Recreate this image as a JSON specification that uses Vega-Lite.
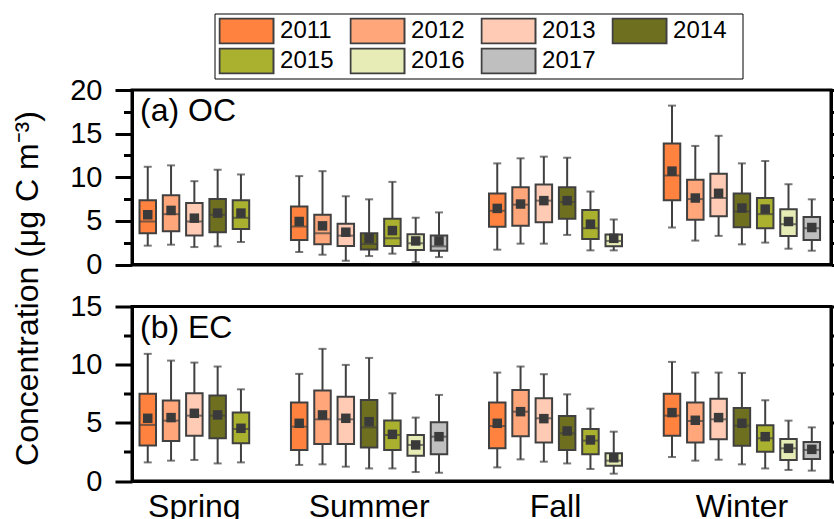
{
  "$schema": "https://vega.github.io/schema/vega-lite/v6.json",
  "padding": {"left": 10, "top": 13, "right": 0, "bottom": 0},
  "bounds": "flush",
  "spacing": 41.5,
  "config": {
    "font": "Liberation Sans",
    "view": {"stroke": "black", "strokeWidth": 3},
    "axis": {"domainColor": "black", "tickColor": "black", "labelColor": "black", "titleColor": "black", "grid": false, "domainWidth": 3, "tickWidth": 3, "labelFont": "Liberation Sans", "titleFont": "Liberation Sans"},
    "legend": {"labelFont": "Liberation Sans", "titleFont": "Liberation Sans"},
    "title": {"font": "Liberation Sans", "color": "black"}
  },
  "datasets": {
    "oc": [
      {"season": "Spring", "year": 2011, "lo": 2.16, "q1": 3.58, "med": 4.93, "q3": 7.36, "hi": 11.2, "mean": 5.7},
      {"season": "Spring", "year": 2012, "lo": 2.27, "q1": 3.81, "med": 5.77, "q3": 7.93, "hi": 11.36, "mean": 6.2},
      {"season": "Spring", "year": 2013, "lo": 2.0, "q1": 3.31, "med": 4.93, "q3": 7.05, "hi": 9.55, "mean": 5.31},
      {"season": "Spring", "year": 2014, "lo": 2.08, "q1": 3.7, "med": 5.7, "q3": 7.5, "hi": 10.86, "mean": 5.89},
      {"season": "Spring", "year": 2015, "lo": 2.58, "q1": 4.08, "med": 5.35, "q3": 7.36, "hi": 10.32, "mean": 5.89},
      {"season": "Summer", "year": 2011, "lo": 1.43, "q1": 2.82, "med": 4.35, "q3": 6.66, "hi": 10.13, "mean": 4.93},
      {"season": "Summer", "year": 2012, "lo": 1.12, "q1": 2.31, "med": 3.58, "q3": 5.7, "hi": 10.7, "mean": 4.43},
      {"season": "Summer", "year": 2013, "lo": 0.43, "q1": 2.12, "med": 3.31, "q3": 4.66, "hi": 7.82, "mean": 3.7},
      {"season": "Summer", "year": 2014, "lo": 0.97, "q1": 1.73, "med": 2.35, "q3": 3.58, "hi": 7.47, "mean": 3.0},
      {"season": "Summer", "year": 2015, "lo": 1.24, "q1": 2.12, "med": 3.0, "q3": 5.24, "hi": 9.47, "mean": 3.89},
      {"season": "Summer", "year": 2016, "lo": 0.27, "q1": 1.66, "med": 2.43, "q3": 3.47, "hi": 5.36, "mean": 2.7},
      {"season": "Summer", "year": 2017, "lo": 0.85, "q1": 1.58, "med": 2.08, "q3": 3.31, "hi": 5.97, "mean": 2.7},
      {"season": "Fall", "year": 2011, "lo": 1.7, "q1": 4.32, "med": 6.16, "q3": 8.13, "hi": 11.59, "mean": 6.43},
      {"season": "Fall", "year": 2012, "lo": 2.39, "q1": 4.43, "med": 6.86, "q3": 8.86, "hi": 12.17, "mean": 6.93},
      {"season": "Fall", "year": 2013, "lo": 2.39, "q1": 4.85, "med": 7.32, "q3": 9.17, "hi": 12.36, "mean": 7.32},
      {"season": "Fall", "year": 2014, "lo": 3.39, "q1": 5.24, "med": 7.16, "q3": 8.86, "hi": 12.24, "mean": 7.32},
      {"season": "Fall", "year": 2015, "lo": 1.62, "q1": 2.93, "med": 4.16, "q3": 6.24, "hi": 8.36, "mean": 4.62},
      {"season": "Fall", "year": 2016, "lo": 1.62, "q1": 2.08, "med": 2.7, "q3": 3.43, "hi": 5.16, "mean": 3.0},
      {"season": "Winter", "year": 2011, "lo": 4.24, "q1": 7.36, "med": 10.2, "q3": 13.86, "hi": 18.21, "mean": 10.7},
      {"season": "Winter", "year": 2012, "lo": 2.74, "q1": 5.13, "med": 7.5, "q3": 9.7, "hi": 13.59, "mean": 7.62},
      {"season": "Winter", "year": 2013, "lo": 3.28, "q1": 5.54, "med": 7.62, "q3": 10.39, "hi": 14.75, "mean": 8.16},
      {"season": "Winter", "year": 2014, "lo": 2.31, "q1": 4.27, "med": 6.08, "q3": 8.13, "hi": 11.59, "mean": 6.47},
      {"season": "Winter", "year": 2015, "lo": 2.51, "q1": 4.16, "med": 5.77, "q3": 7.62, "hi": 11.86, "mean": 6.35},
      {"season": "Winter", "year": 2016, "lo": 1.81, "q1": 3.28, "med": 4.62, "q3": 6.32, "hi": 9.2, "mean": 4.93},
      {"season": "Winter", "year": 2017, "lo": 1.58, "q1": 2.82, "med": 4.16, "q3": 5.43, "hi": 7.47, "mean": 4.24}
    ],
    "ec": [
      {"season": "Spring", "year": 2011, "lo": 1.6, "q1": 3.06, "med": 4.82, "q3": 7.49, "hi": 10.93, "mean": 5.39},
      {"season": "Spring", "year": 2012, "lo": 1.75, "q1": 3.44, "med": 5.19, "q3": 6.91, "hi": 10.35, "mean": 5.45},
      {"season": "Spring", "year": 2013, "lo": 1.81, "q1": 3.9, "med": 5.62, "q3": 7.54, "hi": 10.18, "mean": 5.82},
      {"season": "Spring", "year": 2014, "lo": 1.51, "q1": 3.67, "med": 5.62, "q3": 7.34, "hi": 9.84, "mean": 5.68},
      {"season": "Spring", "year": 2015, "lo": 1.6, "q1": 3.24, "med": 4.47, "q3": 5.88, "hi": 7.88, "mean": 4.53},
      {"season": "Summer", "year": 2011, "lo": 1.38, "q1": 2.67, "med": 4.67, "q3": 6.74, "hi": 9.21, "mean": 4.96},
      {"season": "Summer", "year": 2012, "lo": 1.43, "q1": 3.18, "med": 5.3, "q3": 7.77, "hi": 11.36, "mean": 5.68},
      {"season": "Summer", "year": 2013, "lo": 1.23, "q1": 3.18, "med": 5.3, "q3": 7.25, "hi": 9.98, "mean": 5.39},
      {"season": "Summer", "year": 2014, "lo": 1.08, "q1": 2.89, "med": 4.61, "q3": 6.97, "hi": 10.58, "mean": 5.1},
      {"season": "Summer", "year": 2015, "lo": 1.08, "q1": 2.67, "med": 3.96, "q3": 5.19, "hi": 7.54, "mean": 4.01},
      {"season": "Summer", "year": 2016, "lo": 0.77, "q1": 2.18, "med": 3.1, "q3": 3.96, "hi": 5.45, "mean": 3.1},
      {"season": "Summer", "year": 2017, "lo": 0.71, "q1": 2.29, "med": 3.81, "q3": 5.04, "hi": 7.4, "mean": 3.81},
      {"season": "Fall", "year": 2011, "lo": 1.17, "q1": 2.81, "med": 4.73, "q3": 6.74, "hi": 9.32, "mean": 4.96},
      {"season": "Fall", "year": 2012, "lo": 1.86, "q1": 3.84, "med": 5.96, "q3": 7.83, "hi": 9.84, "mean": 5.96},
      {"season": "Fall", "year": 2013, "lo": 1.66, "q1": 3.32, "med": 5.39, "q3": 7.11, "hi": 9.18, "mean": 5.36},
      {"season": "Fall", "year": 2014, "lo": 1.51, "q1": 2.67, "med": 4.1, "q3": 5.59, "hi": 7.45, "mean": 4.3},
      {"season": "Fall", "year": 2015, "lo": 1.03, "q1": 2.29, "med": 3.47, "q3": 4.47, "hi": 6.22, "mean": 3.53},
      {"season": "Fall", "year": 2016, "lo": 0.63, "q1": 1.32, "med": 1.75, "q3": 2.38, "hi": 4.24, "mean": 2.0},
      {"season": "Winter", "year": 2011, "lo": 2.06, "q1": 3.9, "med": 5.62, "q3": 7.51, "hi": 10.24, "mean": 5.88},
      {"season": "Winter", "year": 2012, "lo": 1.75, "q1": 3.3, "med": 5.16, "q3": 6.74, "hi": 9.32, "mean": 5.22},
      {"season": "Winter", "year": 2013, "lo": 1.83, "q1": 3.58, "med": 5.3, "q3": 7.08, "hi": 9.32, "mean": 5.45},
      {"season": "Winter", "year": 2014, "lo": 1.43, "q1": 3.04, "med": 4.76, "q3": 6.28, "hi": 9.29, "mean": 4.96},
      {"season": "Winter", "year": 2015, "lo": 1.08, "q1": 2.52, "med": 3.67, "q3": 4.79, "hi": 6.94, "mean": 3.81},
      {"season": "Winter", "year": 2016, "lo": 0.95, "q1": 1.81, "med": 2.81, "q3": 3.61, "hi": 5.19, "mean": 2.81},
      {"season": "Winter", "year": 2017, "lo": 0.89, "q1": 1.89, "med": 2.67, "q3": 3.36, "hi": 4.61, "mean": 2.72}
    ]
  },
  "resolve": {"scale": {"y": "independent"}},
  "vconcat": [
    {
      "width": 699,
      "height": 174.5,
      "data": {"name": "oc"},
      "transform": [{"calculate": "datum.season + '|' + datum.year", "as": "key"}],
      "title": {"text": "(a) OC", "anchor": "start", "frame": "group", "fontSize": 32, "fontWeight": "normal", "baseline": "alphabetic", "offset": -77, "dx": 8},
      "encoding": {
        "x": {
          "field": "key", "type": "nominal",
          "scale": {
            "domain": ["Spring|2011","Spring|a","Spring|2012","Spring|b","Spring|2013","Spring|c","Spring|2014","Spring|d","Spring|2015","g1","g2","g3","g4","Summer|2011","Summer|a","Summer|2012","Summer|b","Summer|2013","Summer|c","Summer|2014","Summer|d","Summer|2015","Summer|e","Summer|2016","Summer|f","Summer|2017","g5","g6","g7","g8","Fall|2011","Fall|a","Fall|2012","Fall|b","Fall|2013","Fall|m","Fall|2014","Fall|d","Fall|2015","Fall|e","Fall|2016","g9","g10","g11","g12","Winter|2011","Winter|a","Winter|2012","Winter|b","Winter|2013","Winter|c","Winter|2014","Winter|d","Winter|2015","Winter|e","Winter|2016","Winter|f","Winter|2017"],
            "paddingInner": 0, "paddingOuter": 1.935, "align": 0.426
          },
          "axis": {"title": null, "labels": false, "ticks": false, "tickSize": 0}
        }
      },
      "layer": [
        {
          "mark": {"type": "rule", "color": "#404040", "strokeWidth": 2},
          "encoding": {
            "y": {"field": "lo", "type": "quantitative", "scale": {"domain": [0, 20], "nice": false},
              "axis": {"orient": "left", "values": [0, 5, 10, 15, 20], "tickSize": 17, "labelFontSize": 29, "labelPadding": 13, "title": "Concentration (μg C m⁻³)", "titleFontSize": 32, "titleFontWeight": "normal", "titleY": 198, "titlePadding": 25}},
            "y2": {"field": "hi"}
          }
        },
        {
          "mark": {"type": "tick", "color": "#404040", "size": 8, "thickness": 2},
          "encoding": {
            "y": {"field": "lo", "type": "quantitative", "scale": {"domain": [0, 20], "nice": false},
              "axis": {"orient": "left", "values": [2.5, 7.5, 12.5, 17.5], "tickSize": 8.5, "labels": false, "domain": false, "title": null}}
          }
        },
        {
          "mark": {"type": "tick", "color": "#404040", "size": 8, "thickness": 2},
          "encoding": {
            "y": {"field": "hi", "type": "quantitative", "scale": {"domain": [0, 20], "nice": false},
              "axis": {"orient": "right", "values": [0, 2.5, 5, 7.5, 10, 12.5, 15, 17.5, 20], "tickSize": 6, "labels": false, "title": null}}
          }
        },
        {
          "mark": {"type": "bar", "width": 16.5, "stroke": "#404040", "strokeWidth": 2},
          "encoding": {
            "y": {"field": "q3", "type": "quantitative", "scale": {"domain": [0, 20], "nice": false}, "axis": null},
            "y2": {"field": "q1"},
            "fill": {"field": "year", "type": "nominal",
              "scale": {"domain": [2011, 2012, 2013, 2014, 2015, 2016, 2017], "range": ["#FF823E", "#FFA67A", "#FFCBB4", "#6E7020", "#AAB12E", "#E7EBB5", "#BFBFBF"]},
              "legend": {"title": " ", "titleOrient": "right", "titlePadding": 11.5, "titleFontSize": 24, "orient": "none", "legendX": 82.5, "legendY": -76.5, "columns": 4, "direction": "horizontal", "symbolType": "M-1,-0.93H3V0.93H-1Z", "symbolSize": 729, "symbolStrokeColor": "#404040", "symbolStrokeWidth": 2, "labelFontSize": 24, "labelColor": "black", "labelOffset": 32.6, "columnPadding": 16, "rowPadding": 3, "clipHeight": 27, "padding": 4, "strokeColor": "black"}}
          }
        },
        {
          "mark": {"type": "tick", "color": "#404040", "size": 16.5, "thickness": 2},
          "encoding": {"y": {"field": "med", "type": "quantitative", "scale": {"domain": [0, 20], "nice": false}, "axis": null}}
        },
        {
          "mark": {"type": "point", "shape": "square", "filled": true, "size": 90, "color": "#3a3a3a", "opacity": 1},
          "encoding": {"y": {"field": "mean", "type": "quantitative", "scale": {"domain": [0, 20], "nice": false}, "axis": null}}
        }
      ],
      "resolve": {"axis": {"y": "independent"}}
    },
    {
      "width": 699,
      "height": 174.5,
      "data": {"name": "ec"},
      "transform": [{"calculate": "datum.season + '|' + datum.year", "as": "key"}],
      "title": {"text": "(b) EC", "anchor": "start", "frame": "group", "fontSize": 32, "fontWeight": "normal", "baseline": "alphabetic", "offset": -77, "dx": 8},
      "encoding": {
        "x": {
          "field": "key", "type": "nominal",
          "scale": {
            "domain": ["Spring|2011","Spring|a","Spring|2012","Spring|b","Spring|2013","Spring|c","Spring|2014","Spring|d","Spring|2015","g1","g2","g3","g4","Summer|2011","Summer|a","Summer|2012","Summer|b","Summer|2013","Summer|c","Summer|2014","Summer|d","Summer|2015","Summer|e","Summer|2016","Summer|f","Summer|2017","g5","g6","g7","g8","Fall|2011","Fall|a","Fall|2012","Fall|b","Fall|2013","Fall|m","Fall|2014","Fall|d","Fall|2015","Fall|e","Fall|2016","g9","g10","g11","g12","Winter|2011","Winter|a","Winter|2012","Winter|b","Winter|2013","Winter|c","Winter|2014","Winter|d","Winter|2015","Winter|e","Winter|2016","Winter|f","Winter|2017"],
            "paddingInner": 0, "paddingOuter": 1.935, "align": 0.426
          },
          "axis": {"title": null, "values": ["Spring|2013", "Summer|2014", "Fall|m", "Winter|2014"], "labelExpr": "split(datum.value, '|')[0]", "ticks": false, "tickSize": 0, "labelFontSize": 32, "labelPadding": 10, "labelAngle": 0, "labelOverlap": false}
        }
      },
      "layer": [
        {
          "mark": {"type": "rule", "color": "#404040", "strokeWidth": 2},
          "encoding": {
            "y": {"field": "lo", "type": "quantitative", "scale": {"domain": [0, 15], "nice": false},
              "axis": {"orient": "left", "values": [0, 5, 10, 15], "tickSize": 17, "labelFontSize": 29, "labelPadding": 13, "title": null}},
            "y2": {"field": "hi"}
          }
        },
        {
          "mark": {"type": "tick", "color": "#404040", "size": 8, "thickness": 2},
          "encoding": {
            "y": {"field": "lo", "type": "quantitative", "scale": {"domain": [0, 15], "nice": false},
              "axis": {"orient": "left", "values": [2.5, 7.5, 12.5], "tickSize": 8.5, "labels": false, "domain": false, "title": null}}
          }
        },
        {
          "mark": {"type": "tick", "color": "#404040", "size": 8, "thickness": 2},
          "encoding": {
            "y": {"field": "hi", "type": "quantitative", "scale": {"domain": [0, 15], "nice": false},
              "axis": {"orient": "right", "values": [0, 2.5, 5, 7.5, 10, 12.5, 15], "tickSize": 6, "labels": false, "title": null}}
          }
        },
        {
          "mark": {"type": "bar", "width": 16.5, "stroke": "#404040", "strokeWidth": 2},
          "encoding": {
            "y": {"field": "q3", "type": "quantitative", "scale": {"domain": [0, 15], "nice": false}, "axis": null},
            "y2": {"field": "q1"},
            "fill": {"field": "year", "type": "nominal",
              "scale": {"domain": [2011, 2012, 2013, 2014, 2015, 2016, 2017], "range": ["#FF823E", "#FFA67A", "#FFCBB4", "#6E7020", "#AAB12E", "#E7EBB5", "#BFBFBF"]},
              "legend": {"title": " ", "titleOrient": "right", "titlePadding": 11.5, "titleFontSize": 24, "orient": "none", "legendX": 82.5, "legendY": -76.5, "columns": 4, "direction": "horizontal", "symbolType": "M-1,-0.93H3V0.93H-1Z", "symbolSize": 729, "symbolStrokeColor": "#404040", "symbolStrokeWidth": 2, "labelFontSize": 24, "labelColor": "black", "labelOffset": 32.6, "columnPadding": 16, "rowPadding": 3, "clipHeight": 27, "padding": 4, "strokeColor": "black"}}
          }
        },
        {
          "mark": {"type": "tick", "color": "#404040", "size": 16.5, "thickness": 2},
          "encoding": {"y": {"field": "med", "type": "quantitative", "scale": {"domain": [0, 15], "nice": false}, "axis": null}}
        },
        {
          "mark": {"type": "point", "shape": "square", "filled": true, "size": 90, "color": "#3a3a3a", "opacity": 1},
          "encoding": {"y": {"field": "mean", "type": "quantitative", "scale": {"domain": [0, 15], "nice": false}, "axis": null}}
        }
      ],
      "resolve": {"axis": {"y": "independent"}}
    }
  ]
}
